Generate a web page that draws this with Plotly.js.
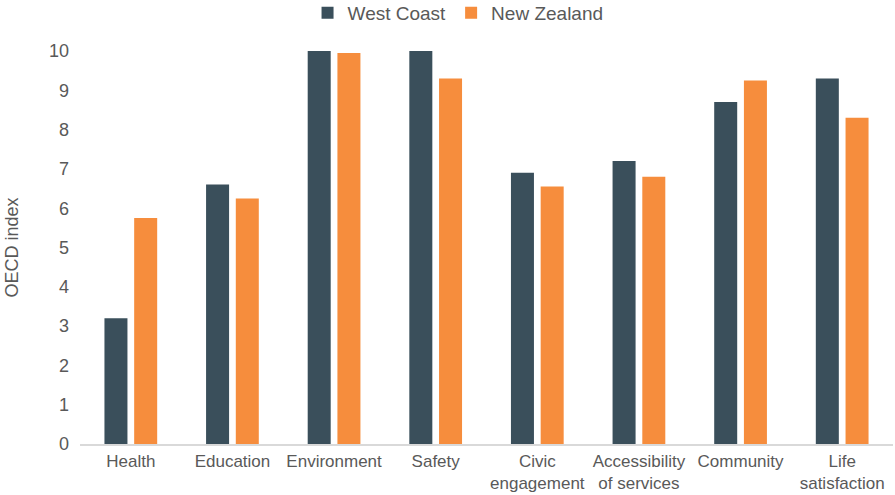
<!DOCTYPE html>
<html>
<head>
<meta charset="utf-8">
<script src="https://cdn.plot.ly/plotly-3.0.1.min.js"></script>
<style>html,body{margin:0;padding:0;background:#fff;}#chart{width:895px;height:495px;}</style>
</head>
<body>
<div id="chart"></div>
<script>
var categories = ["Health", "Education", "Environment", "Safety", "Civic<br>engagement", "Accessibility<br>of services", "Community", "Life<br>satisfaction"];
var westCoast = [3.2, 6.6, 10.0, 10.0, 6.9, 7.2, 8.7, 9.3];
var newZealand = [5.75, 6.25, 9.95, 9.3, 6.55, 6.8, 9.25, 8.3];
var yTicks = [0, 1, 2, 3, 4, 5, 6, 7, 8, 9, 10];

var font = "Liberation Sans, Arial, sans-serif";
var traces = [
  {type: "bar", name: "West Coast", x: categories, y: westCoast, marker: {color: "#3A4F5B"}},
  {type: "bar", name: "New Zealand", x: categories, y: newZealand, marker: {color: "#F68D3D"}}
];
var layout = {
  width: 895, height: 495,
  margin: {l: 80, r: 2, t: 51, b: 51, autoexpand: false},
  paper_bgcolor: "#fff", plot_bgcolor: "#fff",
  barmode: "group", bargap: 0.415, bargroupgap: 0.226,
  font: {family: font, color: "#595959", size: 17},
  showlegend: true,
  legend: {orientation: "h", x: 0.465, xanchor: "center", xref: "paper", y: 1.097, yanchor: "middle", yref: "paper",
           font: {size: 19, color: "#595959"}, traceorder: "normal", itemwidth: 30},
  xaxis: {tickfont: {size: 17, color: "#595959"}, showline: true, linecolor: "#d9d9d9", linewidth: 1.5,
          showgrid: false, ticks: "", automargin: false, ticklabelstandoff: 1},
  yaxis: {range: [0, 10], tickvals: yTicks, showgrid: false, zeroline: false, showline: false,
          tickfont: {size: 18, color: "#595959"}, ticks: "", ticklen: 0, automargin: false, ticklabelstandoff: 10,
          title: {text: "OECD index", font: {size: 18, color: "#595959"}, standoff: 25}}
};
Plotly.newPlot("chart", traces, layout, {displayModeBar: false, staticPlot: true});
</script>
</body>
</html>
